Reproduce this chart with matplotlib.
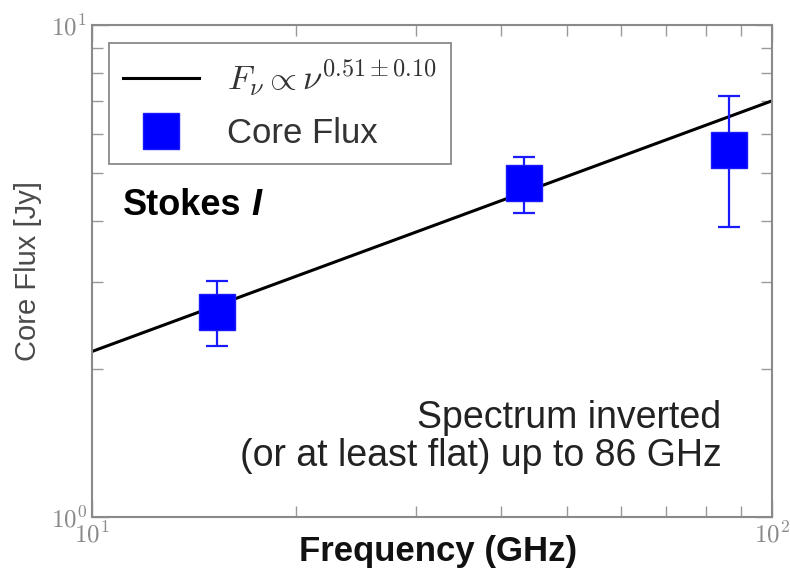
import numpy as np
import matplotlib
matplotlib.use('Agg')
import matplotlib.pyplot as plt
from matplotlib.ticker import FuncFormatter, NullFormatter

plt.rcParams['mathtext.fontset'] = 'cm'
plt.rcParams['font.family'] = ['Liberation Sans', 'DejaVu Sans']

# core flux measurements
freq_ghz = [15.3, 43.2, 86.4]
flux_jy = [2.61, 4.77, 5.57]
flux_hi = [3.02, 5.39, 7.17]
flux_lo = [2.23, 4.15, 3.89]

# power-law fit F = norm * nu^index
fit_index = 0.51
fit_norm = 0.67
fit_nu = [10, 100]

gray = '#8a8a8a'

fig = plt.figure(figsize=(7.9, 5.73), dpi=100)
ax = fig.add_axes([0.116, 0.098, 0.861, 0.858])

nu = np.array(fit_nu, dtype=float)
ax.plot(nu, fit_norm * nu ** fit_index, color='black', lw=2.2,
        label=r'$F_\nu \propto \nu^{0.51\pm0.10}$', zorder=2)

f = np.array(flux_jy)
yerr = [f - np.array(flux_lo), np.array(flux_hi) - f]
ax.errorbar(freq_ghz, flux_jy, yerr=yerr, fmt='none', ecolor='#1a1aff',
            elinewidth=1.6, capsize=8, capthick=1.6, zorder=3)
ax.plot(freq_ghz, flux_jy, ls='none', marker='s', ms=26, color='#0000ff',
        mec='#1a1aff', label='Core Flux', zorder=4)

ax.set_xscale('log')
ax.set_yscale('log')
ax.set_xlim(10, 100)
ax.set_ylim(1, 10)

# plain 10^n labels on decades only
decade = FuncFormatter(lambda v, pos: r'$10^{%d}$' % round(np.log10(v)))
for axis in (ax.xaxis, ax.yaxis):
    axis.set_major_formatter(decade)
    axis.set_minor_formatter(NullFormatter())

for sp in ax.spines.values():
    sp.set_color(gray)
    sp.set_linewidth(1.5)
ax.tick_params(which='both', direction='in', top=True, right=True, colors='#999999',
               labelsize=18, labelcolor=gray)
ax.tick_params(which='major', length=12, width=1)
ax.tick_params(which='minor', length=8, width=1)

ax.set_xlabel('Frequency (GHz)', fontsize=25, fontweight='bold', color='#111111')
ax.xaxis.set_label_coords(0.51, -0.036)
ax.set_ylabel('Core Flux [Jy]', fontsize=21, color='#4a4a4a')
ax.yaxis.set_label_coords(-0.073, 0.5)

stokes = ax.text(0.046, 0.614, 'Stokes', transform=ax.transAxes,
                 fontsize=26, fontweight='bold', va='baseline', ha='left')
ax.annotate('I', xy=(1, 0), xycoords=stokes, xytext=(7, 0),
            textcoords='offset points', fontsize=26, fontweight='bold',
            fontstyle='italic', va='bottom', ha='left')

ax.text(0.926, 0.104, 'Spectrum inverted\n(or at least flat) up to 86 GHz',
        transform=ax.transAxes, fontsize=27, color='#222222', ha='right',
        va='baseline', linespacing=1.05)

leg = ax.legend(loc='upper left', bbox_to_anchor=(0.025, 0.963), borderaxespad=0,
                fancybox=False, edgecolor=gray, fontsize=25, numpoints=1,
                handlelength=2.2, handletextpad=0.8, borderpad=0.4,
                labelspacing=0.55, framealpha=1)
leg.get_frame().set_linewidth(1.3)
for t in leg.get_texts():
    t.set_color('#333333')

fig.savefig('out.png', dpi=100)
